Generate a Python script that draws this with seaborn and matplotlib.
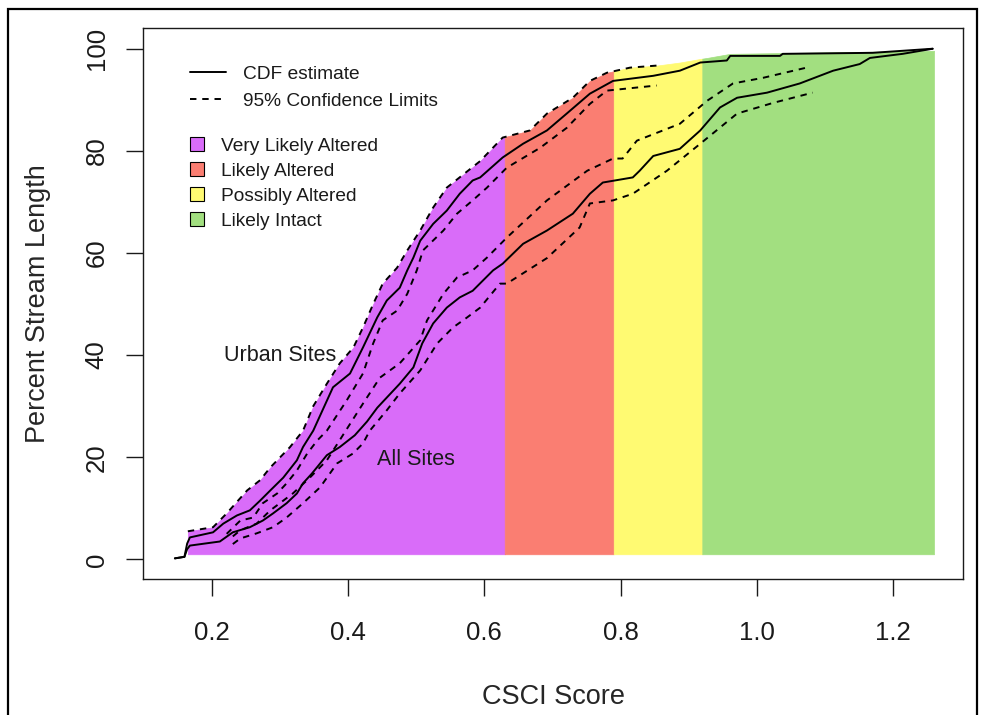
import numpy as np
import seaborn as sns
import matplotlib.pyplot as plt
from matplotlib.lines import Line2D
from matplotlib.patches import Patch, Rectangle

# CDF curves: CSCI score vs percent stream length
urban_x = [0.146, 0.160, 0.164, 0.168, 0.202, 0.217, 0.237, 0.256, 0.271, 0.286, 0.305,
           0.325, 0.334, 0.349, 0.378, 0.403, 0.422, 0.443, 0.457, 0.476, 0.487, 0.496,
           0.506, 0.525, 0.545, 0.564, 0.583, 0.594, 0.627, 0.657, 0.692, 0.721, 0.755,
           0.789, 0.848, 0.887, 0.917, 0.956, 0.961, 1.034, 1.038, 1.170, 1.214, 1.258]
urban_y = [0.2, 0.5, 3.1, 4.3, 5.3, 7.0, 8.6, 9.6, 11.5, 13.5, 16.0,
           19.4, 22.0, 25.2, 33.7, 36.4, 41.5, 47.4, 50.7, 53.2, 56.6, 59.1,
           62.4, 65.7, 68.3, 71.6, 74.2, 74.8, 78.7, 81.4, 84.0, 87.3, 91.2,
           93.7, 94.7, 95.7, 97.3, 97.7, 98.6, 98.6, 99.0, 99.2, 99.6, 100.0]

urban_hi_x = [0.165, 0.202, 0.222, 0.252, 0.271, 0.286, 0.315, 0.334, 0.349, 0.369,
              0.388, 0.408, 0.422, 0.437, 0.451, 0.472, 0.487, 0.506, 0.525, 0.545,
              0.594, 0.627, 0.667, 0.692, 0.730, 0.755, 0.780, 0.814, 0.853]
urban_hi_y = [5.5, 6.3, 9.0, 13.5, 15.5, 18.0, 22.0, 25.2, 30.0, 34.4,
              38.4, 41.5, 45.4, 50.0, 54.0, 57.1, 60.5, 64.4, 68.9, 72.8,
              78.0, 82.6, 84.0, 87.3, 90.4, 93.7, 95.3, 96.3, 96.7]

urban_lo_x = [0.222, 0.242, 0.261, 0.275, 0.296, 0.310, 0.325, 0.340, 0.355, 0.369,
              0.398, 0.422, 0.437, 0.451, 0.472, 0.487, 0.501, 0.510, 0.540, 0.560,
              0.583, 0.604, 0.633, 0.682, 0.721, 0.755, 0.780, 0.853]
urban_lo_y = [5.0, 7.6, 8.2, 11.0, 12.9, 14.9, 17.4, 20.7, 23.3, 25.2,
              31.1, 36.4, 42.3, 46.8, 48.7, 52.0, 56.6, 60.5, 64.4, 67.7,
              70.3, 72.8, 76.7, 80.6, 84.5, 89.2, 91.8, 92.8]

all_x = [0.146, 0.160, 0.164, 0.168, 0.212, 0.231, 0.256, 0.275, 0.290, 0.310, 0.325,
         0.334, 0.347, 0.369, 0.388, 0.410, 0.428, 0.443, 0.476, 0.496, 0.509, 0.525,
         0.545, 0.564, 0.583, 0.598, 0.613, 0.627, 0.657, 0.692, 0.730, 0.755, 0.774,
         0.818, 0.828, 0.848, 0.887, 0.917, 0.946, 0.971, 1.015, 1.063, 1.112, 1.151,
         1.166, 1.214, 1.258]
all_y = [0.2, 0.5, 2.0, 2.7, 3.5, 5.3, 6.3, 7.6, 9.0, 11.0, 12.9,
         14.9, 16.8, 20.4, 22.0, 24.3, 27.0, 29.7, 34.4, 37.6, 42.3, 46.2,
         49.3, 51.3, 52.6, 54.6, 56.6, 57.9, 61.8, 64.4, 67.7, 71.6, 73.8,
         74.8, 76.1, 79.0, 80.4, 84.0, 88.5, 90.4, 91.4, 93.2, 95.7, 97.0,
         98.2, 99.0, 100.0]

all_hi_x = [0.231, 0.242, 0.266, 0.286, 0.305, 0.319, 0.344, 0.369, 0.391, 0.422,
            0.447, 0.476, 0.506, 0.516, 0.540, 0.560, 0.583, 0.604, 0.633, 0.692,
            0.751, 0.789, 0.803, 0.824, 0.887, 0.927, 0.965, 1.009, 1.073]
all_hi_y = [4.5, 5.7, 7.0, 9.6, 11.5, 12.9, 16.0, 19.4, 24.0, 30.5,
            35.6, 38.4, 42.9, 46.8, 52.0, 55.2, 56.6, 59.1, 63.0, 70.3,
            76.1, 78.5, 78.5, 82.0, 85.3, 89.8, 93.2, 94.3, 96.3]

all_lo_x = [0.231, 0.242, 0.266, 0.290, 0.310, 0.334, 0.359, 0.384, 0.407, 0.422,
            0.432, 0.457, 0.476, 0.506, 0.531, 0.554, 0.575, 0.594, 0.623, 0.633,
            0.692, 0.740, 0.755, 0.789, 0.818, 0.868, 0.917, 0.971, 1.024, 1.082]
all_lo_y = [3.0, 4.1, 5.1, 6.3, 8.2, 11.0, 14.1, 18.8, 20.7, 22.7,
            25.2, 29.2, 32.5, 37.0, 42.3, 45.4, 47.4, 49.3, 54.0, 54.0,
            59.0, 65.0, 69.7, 70.3, 71.6, 76.1, 81.4, 87.3, 89.4, 91.4]

# top of the shaded band after the urban upper limit stops
shade_x = [0.887, 0.917, 0.927, 0.961, 1.260]
shade_y = [97.3, 98.0, 98.2, 99.0, 99.6]
shade_floor = 1.0

# CSCI condition classes
class_names = ['Very Likely Altered', 'Likely Altered', 'Possibly Altered', 'Likely Intact']
class_breaks = [0.0, 0.63, 0.79, 0.92, 1.26]
class_colors = ['#D96CF9', '#FA7E72', '#FFFA72', '#A2DF80']

sns.set_style('white')
plt.rcParams['font.family'] = ['Liberation Sans', 'DejaVu Sans']
plt.rcParams['text.color'] = '#1a1a1a'

fig = plt.figure(figsize=(9.82, 7.15), dpi=100)
ax = fig.add_axes([0.1459, 0.1898, 0.8347, 0.7706])

# shaded classes under the upper envelope
env_x = np.array(urban_hi_x + shade_x)
env_y = np.array(urban_hi_y + shade_y)
for i, col in enumerate(class_colors):
    lo = max(class_breaks[i], env_x[0])
    hi = class_breaks[i + 1]
    xs = np.linspace(lo, hi, 400)
    top = np.interp(xs, env_x, env_y)
    ax.fill_between(xs, shade_floor, top, color=col, lw=0.5, zorder=1)

dash = (0, (3.3, 3.0))
curves = [
    (urban_x, urban_y, '-'), (urban_hi_x, urban_hi_y, dash), (urban_lo_x, urban_lo_y, dash),
    (all_x, all_y, '-'), (all_hi_x, all_hi_y, dash), (all_lo_x, all_lo_y, dash),
]
for cx, cy, ls in curves:
    sns.lineplot(x=cx, y=cy, estimator=None, sort=False, color='black',
                 linewidth=1.4, linestyle=ls, ax=ax, zorder=3)

ax.text(0.300, 40.0, 'Urban Sites', fontsize=15.5, ha='center', va='center')
ax.text(0.4995, 19.6, 'All Sites', fontsize=15.5, ha='center', va='center')

ax.set_xlim(0.0996, 1.3025)
ax.set_ylim(-3.9, 104)
ax.set_xticks([0.2, 0.4, 0.6, 0.8, 1.0, 1.2])
ax.set_xticklabels(['0.2', '0.4', '0.6', '0.8', '1.0', '1.2'])
ax.set_yticks([0, 20, 40, 60, 80, 100])
ax.tick_params(axis='both', direction='out', length=12, width=1, color='#1a1a1a',
               labelcolor='#1a1a1a', labelsize=18.5, pad=13, bottom=True, left=True)
ax.tick_params(axis='x', pad=18)
ax.tick_params(axis='y', labelrotation=90)
for t in ax.get_yticklabels():
    t.set_va('center')
for sp in ax.spines.values():
    sp.set_visible(True)
    sp.set_color('#1a1a1a')
    sp.set_linewidth(1.0)

ax.set_xlabel('CSCI Score', fontsize=19.5)
ax.set_ylabel('Percent Stream Length', fontsize=19.5)
ax.xaxis.set_label_coords(0.5, -0.2136)
ax.xaxis.label.set_va('center')
ax.yaxis.set_label_coords(-0.1285, 0.5)
ax.yaxis.label.set_va('center')

line_handles = [Line2D([], [], color='black', lw=1.4, ls='-'),
                Line2D([], [], color='black', lw=1.4, ls=dash)]
leg1 = ax.legend(line_handles, ['CDF estimate', '95% Confidence Limits'], loc='upper left',
                 bbox_to_anchor=(0.057, 0.932), frameon=False, fontsize=13.8,
                 handlelength=1.89, handletextpad=0.88, labelspacing=0.5,
                 borderpad=0, borderaxespad=0)
ax.add_artist(leg1)
patch_handles = [Patch(facecolor=c, edgecolor='black', lw=0.8) for c in class_colors]
ax.legend(patch_handles, class_names, loc='upper left', bbox_to_anchor=(0.057, 0.8025),
          frameon=False, fontsize=13.8, handlelength=0.74, handleheight=0.74,
          handletextpad=0.88, labelspacing=0.38, borderpad=0, borderaxespad=0)

# outer frame around the whole figure
fig.add_artist(Rectangle((8 / 982, -0.05), (977 - 8) / 982, 1 - 9 / 715 + 0.05,
                         transform=fig.transFigure, fill=False, edgecolor='black',
                         lw=1.6, clip_on=False))

fig.savefig('out.png', dpi=100)
